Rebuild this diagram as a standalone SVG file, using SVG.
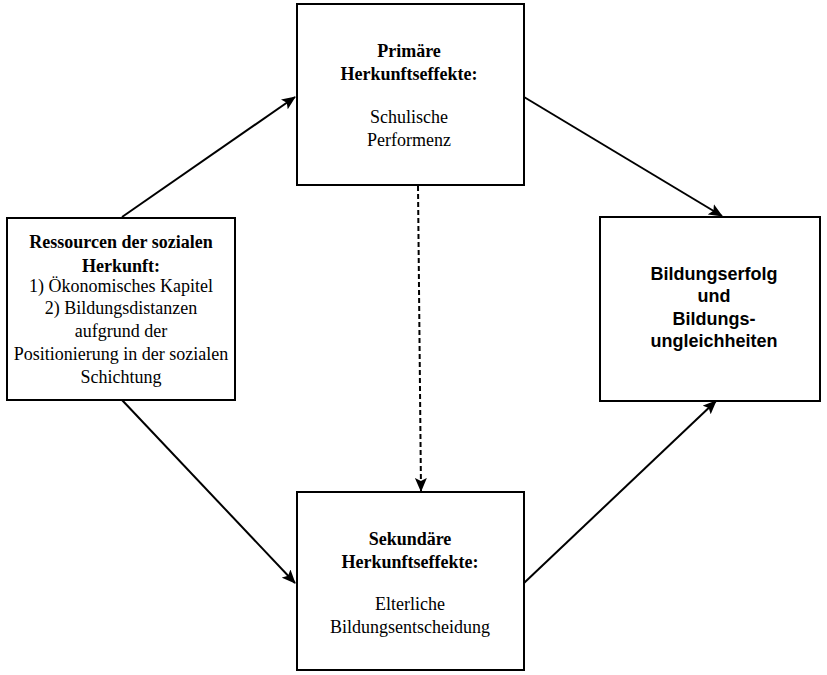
<svg xmlns="http://www.w3.org/2000/svg" width="827" height="675" viewBox="0 0 827 675">
<style>
.box{fill:#fff;stroke:#000;stroke-width:2}
.t{font-family:"Liberation Serif","Times New Roman",serif;font-size:18px;text-anchor:middle;fill:#000}
.b{font-weight:bold}
.a{font-family:"Liberation Sans",Arial,sans-serif;font-size:18px;font-weight:bold;text-anchor:middle;fill:#000}
.c{stroke:#000;stroke-width:2;fill:none}
.d{stroke-dasharray:5,3}
</style>
<defs>
<marker id="ah" markerUnits="userSpaceOnUse" markerWidth="14" markerHeight="12" refX="13" refY="6" orient="auto">
<path d="M0,0 L14,6 L0,12 L3,6 Z" fill="#000"/>
</marker>
</defs>
<rect width="827" height="675" fill="#fff"/>
<g id="connectors">
<line class="c" x1="122" y1="217" x2="295" y2="97" marker-end="url(#ah)"/>
<line class="c" x1="524" y1="97" x2="722" y2="216" marker-end="url(#ah)"/>
<line class="c" x1="122" y1="400" x2="295" y2="583" marker-end="url(#ah)"/>
<line class="c" x1="524" y1="583" x2="716" y2="401" marker-end="url(#ah)"/>
<line class="c d" x1="418" y1="186" x2="421" y2="491" marker-end="url(#ah)"/>
</g>
<g id="primaer">
<rect class="box" x="297" y="4" width="227" height="181"/>
<text class="t b" x="409" y="57">Primäre</text>
<text class="t b" x="409" y="80">Herkunftseffekte:</text>
<text class="t" x="409" y="123">Schulische</text>
<text class="t" x="409" y="146">Performenz</text>
</g>
<g id="ressourcen">
<rect class="box" x="7" y="218" width="228" height="182"/>
<text class="t b" x="121" y="248">Ressourcen der sozialen</text>
<text class="t b" x="121" y="272">Herkunft:</text>
<text class="t" x="121" y="292">1) Ökonomisches Kapitel</text>
<text class="t" x="121" y="314">2) Bildungsdistanzen</text>
<text class="t" x="121" y="337">aufgrund der</text>
<text class="t" x="121" y="360">Positionierung in der sozialen</text>
<text class="t" x="121" y="383">Schichtung</text>
</g>
<g id="bildungserfolg">
<rect class="box" x="600" y="217" width="220" height="184"/>
<text class="a" x="714" y="280">Bildungserfolg</text>
<text class="a" x="714" y="302">und</text>
<text class="a" x="714" y="325">Bildungs-</text>
<text class="a" x="714" y="347">ungleichheiten</text>
</g>
<g id="sekundaer">
<rect class="box" x="297" y="492" width="227" height="178"/>
<text class="t b" x="410" y="545">Sekundäre</text>
<text class="t b" x="410" y="568">Herkunftseffekte:</text>
<text class="t" x="410" y="610">Elterliche</text>
<text class="t" x="410" y="633">Bildungsentscheidung</text>
</g>
</svg>
